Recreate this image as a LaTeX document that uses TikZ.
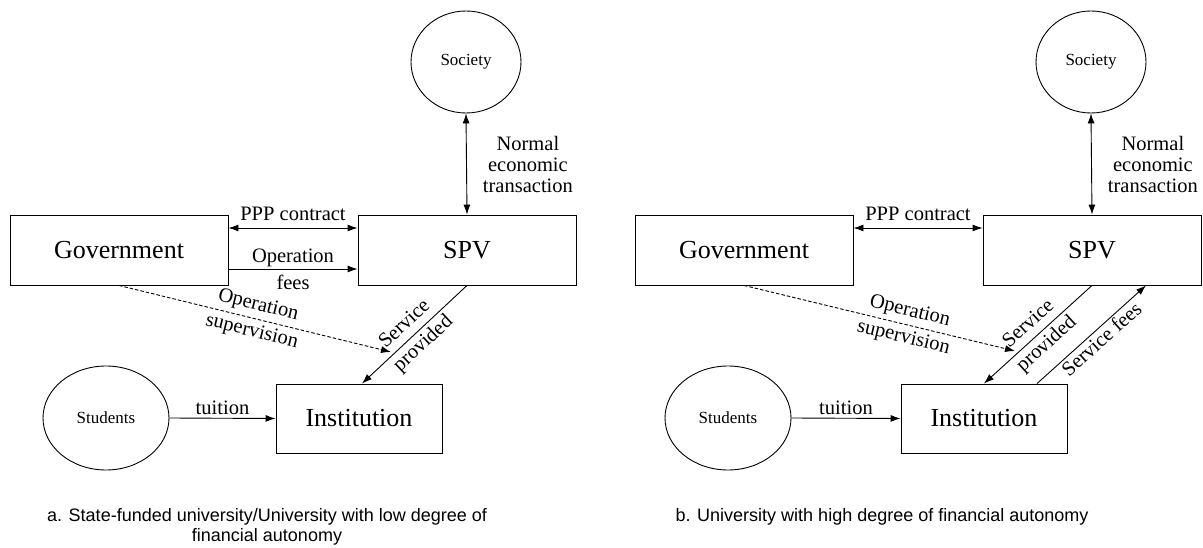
\documentclass[tikz,border=0pt]{standalone}
\usepackage{fontspec}
\setmainfont{Liberation Serif}
\newfontfamily\capfont{Liberation Sans}
\usetikzlibrary{shapes.geometric,arrows.meta}
\tikzset{
  box/.style={draw, line width=0.9pt, inner sep=0pt, minimum width=218pt, minimum height=70pt, font=\fontsize{26}{30}\selectfont},
  party/.style={draw, line width=0.9pt, ellipse, inner sep=0pt, font=\fontsize{17}{20}\selectfont},
  flow/.style={line width=0.9pt, -{Latex[length=10pt,width=7pt]}},
  twoway/.style={line width=0.9pt, {Latex[length=10pt,width=7pt]}-{Latex[length=10pt,width=7pt]}},
  supervise/.style={flow, dash pattern=on 3.5pt off 2pt},
  lbl/.style={font=\fontsize{20.5}{21}\selectfont, align=center, inner sep=2pt},
  across/.style={font=\fontsize{20.5}{27}\selectfont, align=center, inner sep=0pt},
  caption/.style={font=\capfont\fontsize{18}{20}\selectfont, align=center},
}
\begin{document}
\begin{tikzpicture}[x=1pt, y=-1pt]
  \useasboundingbox (0,0) rectangle (1203,548);
  \node[box] (gova) at (119,250) {Government};
  \node[box] (spva) at (467,250) {SPV};
  \node[box, minimum width=166pt, minimum height=69pt] (insta) at (359,418.5) {Institution};
  \node[party, minimum width=110pt, minimum height=102pt] (soca) at (466,62) {Society};
  \node[party, minimum width=126pt, minimum height=104pt] (stua) at (106,418) {Students};
  \coordinate (supa) at (391,352);
  \draw[twoway] (soca.south) -- node[lbl, right=14pt] {Normal\\economic\\transaction} (spva.north);
  \draw[twoway] ([yshift=22pt]gova.east) -- node[lbl, above=5pt] {PPP contract} ([yshift=22pt]spva.west);
  \draw[flow] ([yshift=-19pt]gova.east) -- node[across] {Operation\\fees} ([yshift=-19pt]spva.west);
  \draw[supervise] (gova.south) -- node[across, sloped, pos=0.5] {Operation\\supervision} (supa);
  \draw[flow] (spva.south) -- node[across, sloped] {Service\\provided} ([xshift=3pt]insta.north);
  \draw[flow] (stua.east) -- node[lbl, above=1pt] {tuition} (insta.west);
  \node[caption] (capa) at (267,527) {a. State-funded university/University with low degree of\\financial autonomy};
  \begin{scope}[xshift=625pt]
    \node[box] (govb) at (119,250) {Government};
    \node[box] (spvb) at (467,250) {SPV};
    \node[box, minimum width=166pt, minimum height=69pt] (instb) at (359,418.5) {Institution};
    \node[party, minimum width=110pt, minimum height=102pt] (socb) at (466,62) {Society};
    \node[party, minimum width=126pt, minimum height=104pt] (stub) at (103,418) {Students};
    \coordinate (supb) at (390,351);
    \draw[twoway] (socb.south) -- node[lbl, right=14pt] {Normal\\economic\\transaction} (spvb.north);
    \draw[twoway] ([yshift=22pt]govb.east) -- node[lbl, above=5pt] {PPP contract} ([yshift=22pt]spvb.west);
    \draw[supervise] (govb.south) -- node[across, sloped, pos=0.6] {Operation\\supervision} (supb);
    \draw[flow] (spvb.south) -- node[across, sloped] {Service\\provided} (instb.north);
    \draw[flow] ([xshift=53pt]instb.north) -- node[lbl, sloped, below=0pt, pos=0.53] {Service fees} ([xshift=54pt]spvb.south);
    \draw[flow] (stub.east) -- node[lbl, above=1pt] {tuition} (instb.west);
    \node[caption] (capb) at (257,517) {b. University with high degree of financial autonomy};
  \end{scope}
\end{tikzpicture}
\end{document}
